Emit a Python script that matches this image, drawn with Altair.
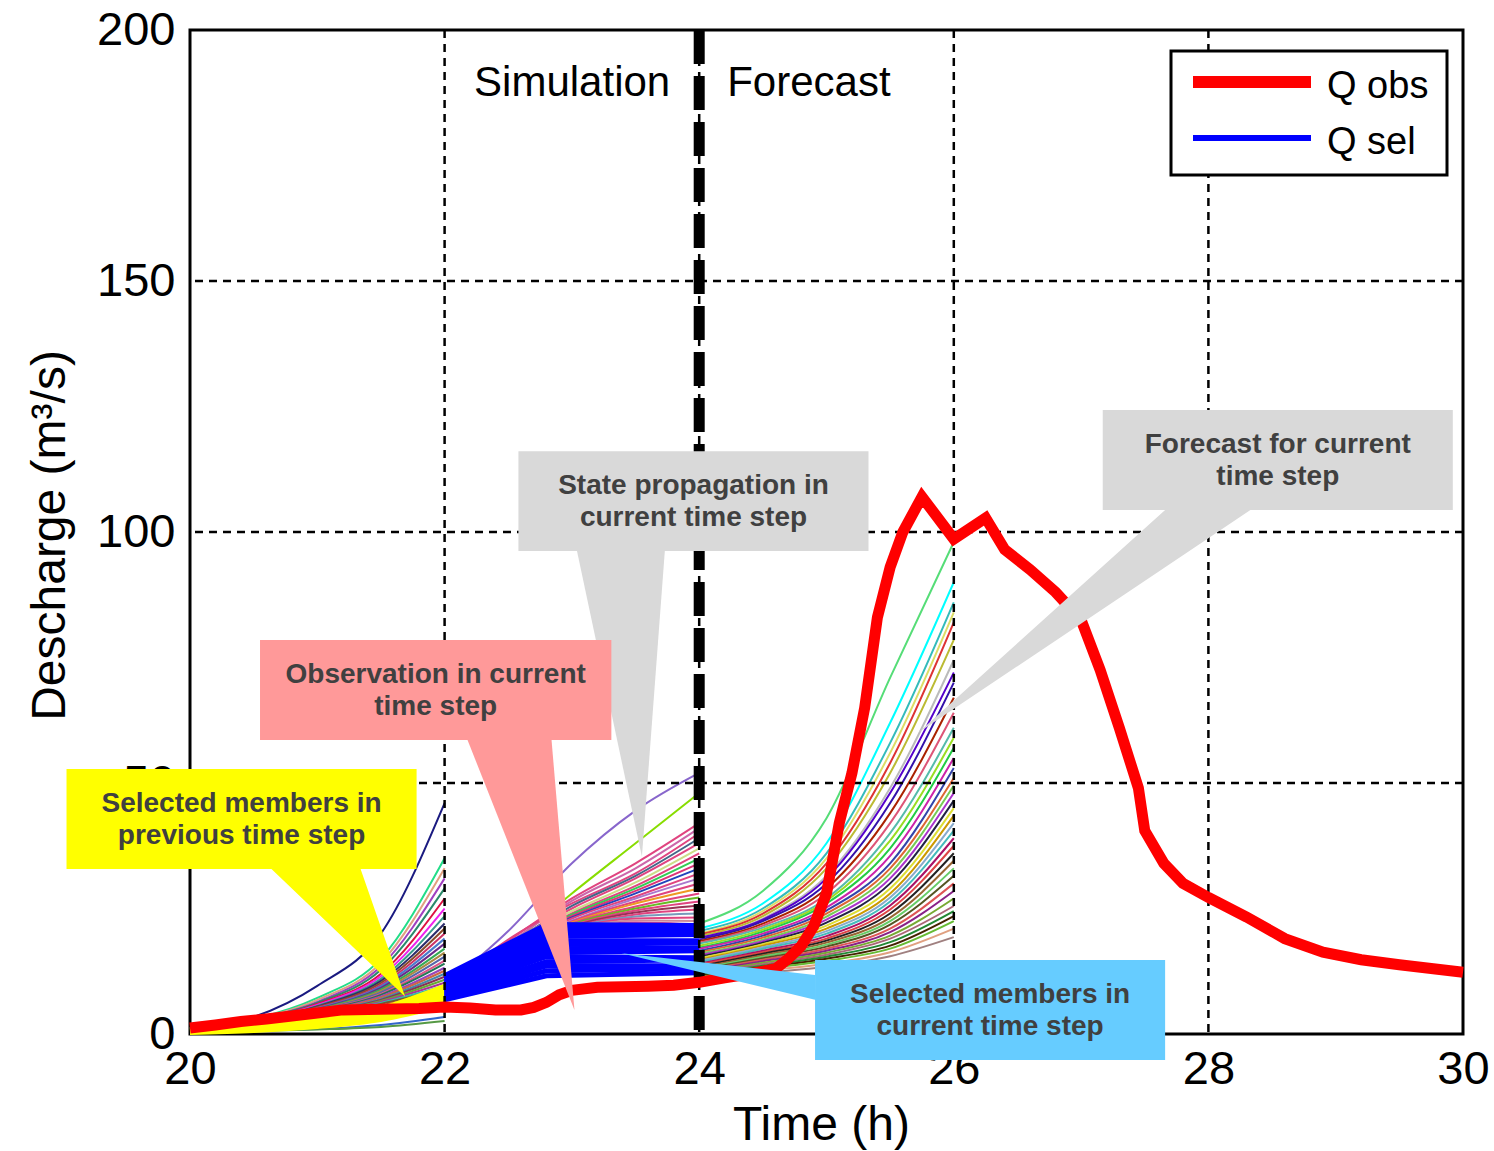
import altair as alt
import pandas as pd

FONT = "Liberation Sans"

# ---------------------------------------------------------------- axes
x_ticks = [20, 22, 24, 26, 28, 30]
y_ticks = [0, 50, 100, 150, 200]
x_grid = [22, 24, 26, 28]
y_grid = [50, 100, 150]
phase_split = [24]
phase_labels = ["Simulation", "Forecast"]

# ---------------------------------------------------------------- observed discharge (m3/s)
obs_t = [20.0, 20.2, 20.4, 20.6, 20.8, 21.0, 21.2, 21.4, 21.6, 21.8, 22.0, 22.2, 22.4,
         22.6, 22.7, 22.8, 22.9, 23.0, 23.2, 23.4, 23.6, 23.8, 24.0, 24.2, 24.4, 24.6,
         24.7, 24.8, 24.9, 25.0, 25.1, 25.2, 25.3, 25.4, 25.5, 25.6, 25.75, 26.0, 26.25,
         26.4, 26.6, 26.8, 27.0, 27.15, 27.3, 27.45, 27.5, 27.65, 27.8, 28.0, 28.3, 28.6,
         28.9, 29.2, 29.5, 29.8, 30.0]
obs_q = [1.2, 1.8, 2.5, 3.0, 3.6, 4.2, 4.8, 4.9, 5.0, 5.1, 5.4, 5.2, 4.8,
         4.8, 5.3, 6.3, 7.8, 8.7, 9.3, 9.4, 9.5, 9.7, 10.3, 11.2, 12.0, 13.0,
         15.0, 17.5, 21.5, 28.0, 42.0, 52.0, 65.0, 83.0, 93.0, 100.0, 107.0, 98.6, 102.8,
         96.5, 92.5, 88.0, 82.5, 72.5, 61.0, 49.0, 40.5, 34.0, 30.0, 27.2, 23.3, 19.0,
         16.3, 14.8, 13.8, 12.9, 12.3]

# ---------------------------------------------------------------- ensemble, previous time step (20-22 h)
prev_hours = [20.0, 20.5, 21.0, 21.5, 22.0]
prev_members = [
    [1.0, 3.4, 9.6, 20.0, 46.0],
    [1.2, 3.0, 7.2, 15.0, 35.0],
    [1.1, 2.9, 6.8, 14.2, 33.0],
    [1.0, 2.8, 6.4, 13.5, 31.0],
    [1.3, 2.9, 6.2, 12.8, 29.0],
    [1.1, 2.7, 6.0, 12.0, 27.0],
    [0.9, 2.6, 5.8, 11.5, 25.0],
    [1.2, 2.7, 5.6, 11.0, 23.5],
    [1.0, 2.5, 5.5, 10.6, 22.0],
    [1.4, 2.8, 5.4, 10.2, 21.0],
    [1.1, 2.6, 5.2, 9.8, 20.0],
    [0.8, 2.4, 5.1, 9.5, 19.0],
    [1.2, 2.5, 5.0, 9.2, 18.0],
    [1.0, 2.4, 4.9, 8.9, 17.0],
    [1.3, 2.6, 4.8, 8.6, 16.2],
    [0.9, 2.3, 4.7, 8.3, 15.4],
    [1.1, 2.4, 4.6, 8.0, 14.6],
    [1.0, 2.2, 4.5, 7.8, 14.0],
    [1.2, 2.3, 4.4, 7.5, 13.2],
    [0.8, 2.1, 4.3, 7.3, 12.6],
    [1.1, 2.2, 4.2, 7.0, 12.0],
    [1.0, 2.0, 4.1, 6.8, 11.4],
    [0.9, 2.1, 4.0, 6.6, 10.8],
    [1.2, 2.2, 3.9, 6.4, 10.2],
    [1.0, 1.9, 3.8, 6.2, 9.6],
    [0.8, 1.8, 3.6, 6.0, 9.0],
    [1.1, 2.0, 3.5, 5.7, 8.4],
    [0.9, 1.7, 3.4, 5.5, 7.8],
    [0.4, 0.7, 1.0, 1.8, 3.4],
    [0.3, 0.6, 0.9, 1.4, 2.6],
]
prev_selected = [
    [0.2, 0.6, 1.4, 2.8, 5.6],
    [0.4, 0.9, 1.8, 3.4, 6.6],
    [0.5, 1.1, 2.0, 3.7, 7.1],
    [0.6, 1.2, 2.2, 4.0, 7.6],
    [0.7, 1.4, 2.4, 4.3, 8.1],
    [0.8, 1.5, 2.6, 4.6, 8.6],
    [0.9, 1.7, 2.8, 4.9, 9.1],
    [1.0, 1.8, 3.0, 5.2, 9.6],
]

# ---------------------------------------------------------------- ensemble, state propagation (22-24 h)
sim_hours = [22.0, 22.5, 23.0, 23.5, 24.0]
sim_members = [
    [9.5, 20.5, 34.0, 44.5, 52.0],
    [9.0, 17.5, 28.0, 38.0, 48.0],
    [8.8, 18.5, 27.0, 34.0, 42.0],
    [8.5, 18.0, 26.5, 33.0, 41.0],
    [9.2, 18.8, 26.0, 32.0, 40.0],
    [8.0, 17.6, 25.5, 31.5, 39.0],
    [8.6, 17.8, 25.0, 31.0, 38.0],
    [9.8, 18.2, 24.5, 30.2, 37.0],
    [7.8, 17.0, 24.0, 29.5, 36.0],
    [8.2, 17.4, 23.8, 29.0, 35.0],
    [9.0, 17.2, 23.5, 28.5, 34.0],
    [7.5, 16.8, 23.2, 28.0, 33.0],
    [8.4, 16.6, 23.0, 27.4, 32.0],
    [9.4, 16.9, 22.6, 27.0, 31.0],
    [7.2, 16.2, 22.4, 26.4, 30.0],
    [8.8, 16.4, 22.2, 26.0, 29.0],
    [7.6, 16.0, 22.0, 25.4, 28.0],
    [8.1, 15.8, 21.8, 25.0, 27.2],
    [9.6, 16.1, 21.6, 24.6, 26.4],
    [7.0, 15.4, 21.4, 24.2, 25.6],
    [8.3, 15.6, 21.2, 23.8, 24.8],
    [7.4, 15.0, 21.0, 23.4, 24.0],
    [8.9, 15.2, 20.8, 23.0, 23.2],
    [7.9, 14.8, 20.6, 22.6, 22.5],
    [8.7, 14.5, 20.4, 22.2, 21.8],
    [7.3, 14.2, 20.2, 21.8, 21.2],
]

# selected members in the current time step (Q sel)
sel_hours = [22.0, 22.8, 24.0]
sel_members = [
    [6.8, 11.6, 12.2],
    [7.2, 12.6, 13.0],
    [7.6, 13.6, 13.6],
    [8.0, 14.4, 14.8],
    [8.4, 15.4, 15.2],
    [8.8, 16.2, 16.6],
    [9.2, 17.0, 17.2],
    [9.6, 17.8, 18.2],
    [10.0, 18.6, 18.6],
    [10.4, 19.4, 19.8],
    [10.8, 20.2, 20.0],
    [11.2, 21.0, 21.0],
    [11.6, 21.8, 21.6],
]

# ---------------------------------------------------------------- ensemble forecast (24-26 h)
fc_hours = [24.0, 24.5, 25.0, 25.5, 26.0]
fc_members = [
    [22.0, 28.5, 43.0, 71.0, 98.0],
    [21.0, 26.0, 38.0, 62.0, 90.0],
    [20.5, 25.0, 36.0, 58.0, 86.0],
    [20.0, 24.5, 35.0, 56.0, 84.0],
    [19.8, 24.0, 34.0, 54.0, 82.0],
    [19.5, 23.5, 33.0, 52.0, 78.5],
    [19.0, 23.0, 31.5, 49.0, 74.5],
    [19.2, 22.8, 31.0, 48.0, 72.0],
    [18.8, 22.5, 30.0, 46.0, 70.0],
    [18.5, 22.0, 29.0, 44.0, 67.0],
    [18.2, 21.6, 28.0, 42.0, 64.0],
    [18.0, 21.2, 27.0, 40.0, 61.0],
    [17.6, 20.8, 26.5, 38.5, 59.0],
    [17.2, 20.4, 26.0, 37.0, 57.0],
    [17.0, 20.0, 25.2, 35.5, 55.0],
    [16.6, 19.6, 24.6, 34.0, 53.0],
    [16.3, 19.2, 24.0, 33.0, 51.0],
    [16.0, 18.8, 23.4, 32.0, 49.5],
    [15.7, 18.5, 22.8, 31.0, 48.0],
    [15.4, 18.2, 22.2, 30.0, 46.5],
    [15.1, 17.9, 21.6, 29.0, 45.0],
    [14.8, 17.6, 21.0, 28.0, 43.5],
    [14.6, 17.3, 20.5, 27.2, 42.0],
    [14.3, 17.0, 20.0, 26.4, 40.5],
    [14.0, 16.6, 19.5, 25.6, 39.0],
    [13.8, 16.3, 19.0, 24.8, 37.5],
    [13.5, 16.0, 18.6, 24.0, 36.0],
    [13.2, 15.7, 18.2, 23.2, 34.5],
    [13.0, 15.4, 17.8, 22.5, 33.0],
    [12.8, 15.1, 17.4, 21.8, 31.5],
    [12.6, 14.8, 17.0, 21.0, 30.0],
    [12.4, 14.5, 16.6, 20.3, 28.5],
    [12.2, 14.2, 16.2, 19.6, 27.0],
    [12.0, 13.9, 15.8, 19.0, 25.5],
    [11.8, 13.6, 15.4, 18.3, 24.5],
    [11.6, 13.3, 15.0, 17.6, 23.5],
    [11.4, 13.0, 14.6, 17.0, 22.5],
    [11.2, 12.6, 14.0, 16.3, 21.0],
    [11.0, 12.2, 13.4, 15.5, 19.3],
]

# ---------------------------------------------------------------- member colours
prev_palette = ["#1a1a80", "#22dd88", "#e0a080", "#a040c0", "#2a8a6a", "#dd1144",
                "#ee22ee", "#3a9a8a", "#2b2b6b", "#8a4a2a", "#cc3366", "#4a7acc",
                "#6a2a8a", "#33aa55", "#aa8844", "#5566aa", "#dd5588", "#227755",
                "#9944bb", "#cc6644", "#4488aa", "#883355", "#66aa33", "#aa3399",
                "#33bbaa", "#775533", "#cc4422", "#5533aa", "#3366cc", "#559944"]
sim_palette = ["#8866cc", "#88dd00", "#e04480", "#cc66aa", "#e04480", "#446688",
               "#e04480", "#ccdd88", "#e04480", "#33cc55", "#dd3377", "#2244bb",
               "#e04480", "#aa77cc", "#e04480", "#ee9922", "#e04480", "#66bb22",
               "#e04480", "#993355", "#e04480", "#7799bb", "#e04480", "#cc8899",
               "#e04480", "#553322"]
fc_palette = ["#55dd77", "#00ffff", "#33bbbb", "#dddd66", "#dd3333", "#bbbb33",
              "#bbbbbb", "#5500cc", "#3311aa", "#aa2200", "#dd5577", "#55bbaa",
              "#99dd22", "#22cc44", "#cc22aa", "#3344aa", "#dd6633", "#77cc55",
              "#aa33cc", "#222244", "#dddd33", "#cc9900", "#88aacc", "#44bbbb",
              "#aa1166", "#dd4444", "#222222", "#996633", "#66cc66", "#555522",
              "#dd5555", "#882288", "#77aa33", "#aa6677", "#228833", "#442200",
              "#66bb33", "#e0a080", "#a08080"]

# ---------------------------------------------------------------- legend
legend_labels = ["Q obs", "Q sel"]
legend_colors = ["#ff0000", "#0000ff"]
legend_widths = [12, 6]

# ---------------------------------------------------------------- callouts (box corners, wedge base, tip; data units)
callout_labels = ["Selected members in\nprevious time step",
                  "Observation in current\ntime step",
                  "State propagation in\ncurrent time step",
                  "Forecast for current\ntime step",
                  "Selected members in\ncurrent time step"]
callout_fills = ["#ffff00", "#ff9999", "#d9d9d9", "#d9d9d9", "#66ccff"]
callout_boxes = [(19.03, 21.78, 32.87, 52.79),
                 (20.55, 23.31, 58.57, 78.49),
                 (22.58, 25.33, 96.2, 116.1),
                 (27.17, 29.92, 104.4, 124.3),
                 (24.91, 27.66, -5.18, 14.74)]
callout_bases = [((20.64, 32.87), (21.34, 32.87)),
                 ((22.18, 58.57), (22.84, 58.57)),
                 ((23.04, 96.2), (23.73, 96.2)),
                 ((27.66, 104.4), (28.33, 104.4)),
                 ((24.91, 11.75), (24.915, 6.77))]
callout_tips = [(21.69, 7.4), (23.02, 4.8), (23.55, 35.3), (25.72, 60.0), (23.39, 16.1)]


# ---------------------------------------------------------------- frames
def member_rows(prefix, hours, members, palette):
    out = []
    for i, vals in enumerate(members):
        for h, v in zip(hours, vals):
            out.append({"member": f"{prefix}{i:02d}", "t": h, "q": v,
                        "color": palette[i % len(palette)]})
    return out


ens = pd.DataFrame(member_rows("A", prev_hours, prev_members, prev_palette)
                   + member_rows("B", sim_hours, sim_members, sim_palette)
                   + member_rows("C", fc_hours, fc_members, fc_palette))
prev_sel = pd.DataFrame(member_rows("Y", prev_hours, prev_selected, ["#ffff00"]))
cur_sel = pd.DataFrame(member_rows("S", sel_hours, sel_members, ["#0000ff"]))
obs = pd.DataFrame({"t": obs_t, "q": obs_q})


def wedge(name, fill, a, b, tip):
    # triangle expressed as an area band between two straight edges
    (x0, y0), (x1, y1), (x2, y2) = sorted([a, b, tip], key=lambda p: p[0])
    ym = y0 + (y2 - y0) * (x1 - x0) / (x2 - x0)
    return [{"name": name, "fill": fill, "t": x0, "q": y0, "q2": y0},
            {"name": name, "fill": fill, "t": x1, "q": y1, "q2": ym},
            {"name": name, "fill": fill, "t": x2, "q": y2, "q2": y2}]


wedge_rows, box_rows = [], []
for i, lab in enumerate(callout_labels):
    base_a, base_b = callout_bases[i]
    wedge_rows += wedge(f"c{i}", callout_fills[i], base_a, base_b, callout_tips[i])
    t0, t1, q0, q1 = callout_boxes[i]
    box_rows.append({"name": f"c{i}", "fill": callout_fills[i], "t0": t0, "t1": t1,
                     "q0": q0, "q1": q1, "tc": (t0 + t1) / 2, "qc": (q0 + q1) / 2,
                     "label": lab})
wedges = pd.DataFrame(wedge_rows)
boxes = pd.DataFrame(box_rows)

# ---------------------------------------------------------------- scales / axes
x_scale = alt.Scale(domain=[20, 30], nice=False, zero=False)
y_scale = alt.Scale(domain=[0, 200], nice=False, zero=False)
x_axis = alt.Axis(values=x_ticks, title="Time (h)", grid=False, ticks=False, domain=False,
                  labelFont=FONT, labelFontSize=47, labelColor="black", labelPadding=12,
                  labelFlush=False, labelOverlap=False,
                  titleFont=FONT, titleFontSize=48, titleFontWeight="normal",
                  titleColor="black", titleX=631, titleY=91, titleAlign="center",
                  titleBaseline="middle")
y_axis = alt.Axis(values=y_ticks, title="Descharge (m³/s)", grid=False, ticks=False,
                  domain=False, labelFont=FONT, labelFontSize=47, labelColor="black",
                  labelPadding=15, labelFlush=False, labelOverlap=False,
                  titleFont=FONT, titleFontSize=48, titleFontWeight="normal",
                  titleColor="black", titleAngle=270, titleX=-140, titleY=505,
                  titleAlign="center", titleBaseline="middle")


def X(field="t"):
    return alt.X(f"{field}:Q", scale=x_scale, axis=x_axis)


def Y(field="q"):
    return alt.Y(f"{field}:Q", scale=y_scale, axis=y_axis)


# ---------------------------------------------------------------- layers
ens_layer = alt.Chart(ens).mark_line(strokeWidth=2, interpolate="monotone").encode(
    x=X(), y=Y(), detail="member:N", color=alt.Color("color:N", scale=None))

prev_sel_layer = alt.Chart(prev_sel).mark_line(strokeWidth=4, interpolate="monotone",
                                               color="#ffff00").encode(
    x=X(), y=Y(), detail="member:N")

cur_sel_layer = alt.Chart(cur_sel).mark_line(strokeWidth=5, color="#0000ff").encode(
    x=X(), y=Y(), detail="member:N")

vgrid = alt.Chart(pd.DataFrame({"t": x_grid})).mark_rule(
    color="black", strokeWidth=2.5, strokeDash=[8, 6]).encode(x=X())
hgrid = alt.Chart(pd.DataFrame({"q": y_grid})).mark_rule(
    color="black", strokeWidth=2.5, strokeDash=[8, 6]).encode(y=Y())
split = alt.Chart(pd.DataFrame({"t": phase_split})).mark_rule(
    color="black", strokeWidth=11, strokeDash=[34, 12]).encode(x=X())

obs_layer = alt.Chart(obs).mark_line(strokeWidth=11, color="#ff0000").encode(x=X(), y=Y())

phase_df = pd.DataFrame({"t": phase_split, "q": [189.5]})
sim_text = alt.Chart(phase_df).mark_text(
    text=phase_labels[0], align="right", baseline="middle", dx=-29,
    font=FONT, fontSize=42, color="black").encode(x=X(), y=Y())
fc_text = alt.Chart(phase_df).mark_text(
    text=phase_labels[1], align="left", baseline="middle", dx=28,
    font=FONT, fontSize=42, color="black").encode(x=X(), y=Y())

one = pd.DataFrame({"k": [0]})
legend_layers = [alt.Chart(one).mark_rect(fill="white", stroke="black", strokeWidth=3).encode(
    x=alt.value(981), x2=alt.value(1257), y=alt.value(21), y2=alt.value(145))]
for i, lab in enumerate(legend_labels):
    ly = 52 + 56 * i
    legend_layers.append(alt.Chart(one).mark_rule(
        color=legend_colors[i], strokeWidth=legend_widths[i]).encode(
        x=alt.value(1003), x2=alt.value(1121), y=alt.value(ly)))
    legend_layers.append(alt.Chart(one).mark_text(
        text=lab, align="left", baseline="middle", font=FONT, fontSize=38,
        color="black").encode(x=alt.value(1137), y=alt.value(ly + 5)))

wedge_layer = alt.Chart(wedges).mark_area(opacity=1).encode(
    x=X(), y=Y(), y2="q2:Q", detail="name:N", fill=alt.Fill("fill:N", scale=None))
box_layer = alt.Chart(boxes).mark_rect(opacity=1).encode(
    x=X("t0"), x2="t1:Q", y=Y("q0"), y2="q1:Q", fill=alt.Fill("fill:N", scale=None))
label_layer = alt.Chart(boxes).mark_text(
    lineBreak="\n", lineHeight=32, align="center", baseline="middle", dy=-15,
    font=FONT, fontWeight="bold", fontSize=28, color="#404040").encode(
    x=X("tc"), y=Y("qc"), text="label:N")

chart = alt.layer(
    ens_layer, prev_sel_layer, cur_sel_layer, vgrid, hgrid, split, obs_layer,
    sim_text, fc_text, *legend_layers, wedge_layer, box_layer, label_layer
).properties(
    width=1273, height=1004,
    autosize=alt.AutoSizeParams(type="none"),
    padding={"left": 190, "top": 30, "right": 31, "bottom": 117},
    background="white",
).configure_view(stroke="black", strokeWidth=3)

chart.save("out.html", embed_options={"renderer": "svg", "actions": False})
